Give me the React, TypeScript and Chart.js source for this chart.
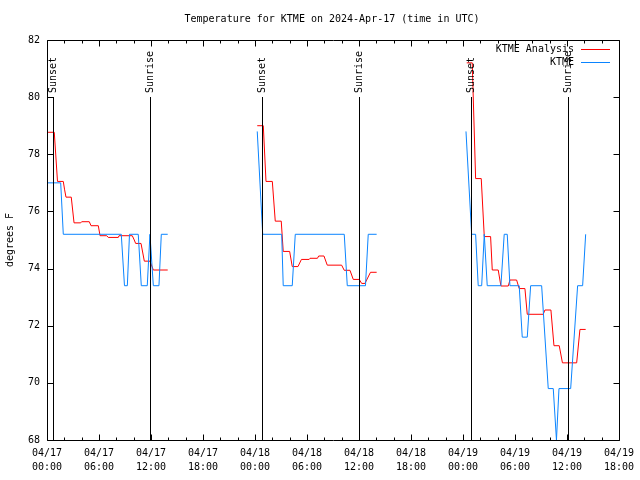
import React, { useEffect, useRef } from 'react';
import { Chart, registerables } from 'chart.js';

Chart.register(...registerables);

const TITLE = 'Temperature for KTME on 2024-Apr-17 (time in UTC)';
const Y_LABEL = 'degrees F';
const SERIES_NAMES = ['KTME Analysis', 'KTME'];
const SERIES_COLORS = ['#ff0000', '#0a84ff'];

// hours since 04/17 00:00 UTC
const xTickHours = [0, 6, 12, 18, 24, 30, 36, 42, 48, 54, 60, 66];
const xTickDates = ['04/17', '04/17', '04/17', '04/17', '04/18', '04/18', '04/18', '04/18', '04/19', '04/19', '04/19', '04/19'];
const xTickTimes = ['00:00', '06:00', '12:00', '18:00', '00:00', '06:00', '12:00', '18:00', '00:00', '06:00', '12:00', '18:00'];
const xMinorStep = 2;
const yTicks = [68, 70, 72, 74, 76, 78, 80, 82];

const sunsetHours = [0.73, 24.8, 48.93];
const sunriseHours = [11.92, 36.0, 60.1];

// KTME Analysis (null = gap between days)
const analysisHours = [
  0.12, 0.84, 1.21, 1.88, 2.02, 2.19, 2.8, 3.12, 3.89, 4.0, 4.88, 5.08, 5.92, 6.12, 6.89, 7.07, 8.23, 8.31, 9.84, 10.07, 10.23, 10.85, 11.23, 11.88, 12.27, 13.93,
  19,
  24.26, 24.96, 25.27, 26.0, 26.34, 27.03, 27.26, 28.0, 28.3, 28.96, 29.36, 30.25, 30.35, 31.21, 31.35, 31.96, 32.34, 34.0, 34.3, 34.96, 35.34, 36.03, 36.31, 36.69, 37.33, 38.04,
  43,
  48.43, 49.07, 49.46, 50.11, 50.46, 51.19, 51.38, 52.07, 52.38, 53.23, 53.42, 54.19, 54.49, 55.15, 55.42, 57.26, 57.46, 58.15, 58.5, 59.11, 59.48, 61.12, 61.5, 62.16,
];
const analysisTemps = [
  78.77, 78.77, 77.05, 77.05, 76.78, 76.5, 76.5, 75.6, 75.6, 75.64, 75.64, 75.5, 75.5, 75.15, 75.15, 75.09, 75.09, 75.15, 75.15, 75.0, 74.88, 74.88, 74.26, 74.26, 73.95, 73.95,
  null,
  79.0, 79.0, 77.05, 77.05, 75.66, 75.66, 74.6, 74.6, 74.07, 74.07, 74.32, 74.32, 74.36, 74.36, 74.44, 74.44, 74.12, 74.12, 73.94, 73.94, 73.62, 73.62, 73.48, 73.48, 73.87, 73.87,
  null,
  81.2, 81.2, 77.15, 77.15, 75.12, 75.12, 73.95, 73.95, 73.39, 73.39, 73.6, 73.6, 73.3, 73.3, 72.4, 72.4, 72.55, 72.55, 71.3, 71.3, 70.7, 70.7, 71.87, 71.87,
];

// KTME observations
const obsHours = [
  0.03, 1.58, 1.88, 8.57, 8.94, 9.27, 9.52, 10.53, 10.88, 11.57, 11.88, 12.27, 12.92, 13.19, 13.93,
  19,
  24.26, 24.89, 27.08, 27.26, 28.3, 28.65, 34.3, 34.65, 36.75, 37.07, 38.04,
  43,
  48.35, 49.0, 49.46, 49.76, 50.16, 50.46, 50.8, 52.38, 52.76, 53.11, 53.42, 54.49, 54.84, 55.42, 55.81, 57.08, 57.84, 58.42, 58.79, 59.08, 60.43, 61.23, 61.81, 62.16,
];
const obsTemps = [
  77.0, 77.0, 75.2, 75.2, 73.4, 73.4, 75.2, 75.2, 73.4, 73.4, 75.2, 73.4, 73.4, 75.2, 75.2,
  null,
  78.8, 75.2, 75.2, 73.4, 73.4, 75.2, 75.2, 73.4, 73.4, 75.2, 75.2,
  null,
  78.8, 75.2, 75.2, 73.4, 73.4, 75.2, 73.4, 73.4, 75.2, 75.2, 73.4, 73.4, 71.6, 71.6, 73.4, 73.4, 69.8, 69.8, 68.0, 69.8, 69.8, 73.4, 73.4, 75.2,
];

const FONT = '"DejaVu Sans Mono", "Liberation Mono", monospace';

const toPoints = (hs: number[], ts: (number | null)[]) => hs.map((h, i) => ({ x: h, y: ts[i] }));

const decorPlugin = {
  id: 'gnuplotDecor',
  afterDraw(chart: any) {
    const { ctx, chartArea } = chart;
    const { left, right, top, bottom } = chartArea;
    const xs = chart.scales.x;
    const ys = chart.scales.y;
    ctx.save();
    ctx.strokeStyle = '#000';
    ctx.fillStyle = '#000';
    ctx.lineWidth = 1;
    const L = Math.round(left) + 0.5;
    const R = Math.round(right) + 0.5;
    const T = Math.round(top) + 0.5;
    const B = Math.round(bottom) + 0.5;
    ctx.beginPath();
    ctx.moveTo(L, T);
    ctx.lineTo(R, T);
    ctx.lineTo(R, B);
    ctx.lineTo(L, B);
    ctx.closePath();
    ctx.stroke();

    // y ticks
    ctx.beginPath();
    yTicks.forEach((v) => {
      const y = Math.round(ys.getPixelForValue(v)) + 0.5;
      ctx.moveTo(L, y);
      ctx.lineTo(L + 6, y);
      ctx.moveTo(R, y);
      ctx.lineTo(R - 6, y);
    });
    // x ticks
    for (let h = xs.min; h <= xs.max + 1e-9; h += xMinorStep) {
      const x = Math.round(xs.getPixelForValue(h)) + 0.5;
      const len = xTickHours.includes(h) ? 6 : 3;
      ctx.moveTo(x, B);
      ctx.lineTo(x, B - len);
      ctx.moveTo(x, T);
      ctx.lineTo(x, T + len);
    }
    ctx.stroke();

    // sunset / sunrise markers
    const lineTop = Math.round(top + (bottom - top) * (1 - 0.8575));
    ctx.font = `10px ${FONT}`;
    const marks: [number, string][] = [
      ...sunsetHours.map((h) => [h, 'Sunset'] as [number, string]),
      ...sunriseHours.map((h) => [h, 'Sunrise'] as [number, string]),
    ];
    marks.forEach(([h, label]) => {
      const x = Math.round(xs.getPixelForValue(h)) + 0.5;
      ctx.beginPath();
      ctx.moveTo(x, B);
      ctx.lineTo(x, lineTop);
      ctx.stroke();
      ctx.save();
      ctx.translate(x, lineTop - 4);
      ctx.rotate(-Math.PI / 2);
      ctx.textAlign = 'left';
      ctx.textBaseline = 'middle';
      ctx.fillText(label, 0, 0);
      ctx.restore();
    });

    // title
    ctx.font = `10px ${FONT}`;
    ctx.textAlign = 'center';
    ctx.textBaseline = 'middle';
    ctx.fillText(TITLE, 332, 19);

    // y label
    ctx.save();
    ctx.translate(10, 240);
    ctx.rotate(-Math.PI / 2);
    ctx.textAlign = 'center';
    ctx.textBaseline = 'middle';
    ctx.fillText(Y_LABEL, 0, 0);
    ctx.restore();

    // legend
    chart.data.datasets.forEach((ds: any, i: number) => {
      const y = 49 + i * 13;
      ctx.textAlign = 'right';
      ctx.textBaseline = 'middle';
      ctx.fillStyle = '#000';
      ctx.fillText(ds.label, 574, y);
      ctx.strokeStyle = ds.borderColor;
      ctx.beginPath();
      ctx.moveTo(581, y + 0.5);
      ctx.lineTo(610, y + 0.5);
      ctx.stroke();
    });
    ctx.restore();
  },
};

export default function App() {
  const ref = useRef<HTMLCanvasElement | null>(null);
  useEffect(() => {
    if (!ref.current) return;
    const chart = new Chart(ref.current, {
      type: 'line',
      data: {
        datasets: [
          {
            label: SERIES_NAMES[0],
            data: toPoints(analysisHours, analysisTemps),
            borderColor: SERIES_COLORS[0],
            backgroundColor: SERIES_COLORS[0],
            borderWidth: 1,
            pointRadius: 0,
            tension: 0,
            spanGaps: false,
            order: 1,
          },
          {
            label: SERIES_NAMES[1],
            data: toPoints(obsHours, obsTemps),
            borderColor: SERIES_COLORS[1],
            backgroundColor: SERIES_COLORS[1],
            borderWidth: 1,
            pointRadius: 0,
            tension: 0,
            spanGaps: false,
            order: 0,
          },
        ],
      },
      options: {
        responsive: false,
        animation: false,
        layout: { padding: { top: 40, right: 20, left: 0, bottom: 0 } },
        plugins: { legend: { display: false }, title: { display: false }, tooltip: { enabled: false } },
        scales: {
          x: {
            type: 'linear',
            min: 0,
            max: 66,
            grid: { display: false, drawTicks: false },
            border: { display: false },
            afterFit: (s: any) => { s.height = 40; },
            ticks: {
              stepSize: 6,
              autoSkip: false,
              maxRotation: 0,
              minRotation: 0,
              padding: 6,
              color: '#000',
              font: { family: FONT, size: 10, lineHeight: 1.4 },
              callback: (v: any) => {
                const i = xTickHours.indexOf(Number(v));
                return i >= 0 ? [xTickDates[i], xTickTimes[i]] : '';
              },
            },
          },
          y: {
            type: 'linear',
            min: 68,
            max: 82,
            grid: { display: false, drawTicks: false },
            border: { display: false },
            afterFit: (s: any) => { s.width = 47; },
            ticks: {
              stepSize: 2,
              padding: 7,
              color: '#000',
              font: { family: FONT, size: 10 },
              callback: (v: any) => (yTicks.includes(Number(v)) ? String(v) : ''),
            },
          },
        },
      },
      plugins: [decorPlugin],
    });
    return () => chart.destroy();
  }, []);
  return (
    <div style={{ position: 'fixed', left: 0, top: 0, width: 640, height: 480, background: '#fff' }}>
      <canvas ref={ref} width={640} height={480} style={{ display: 'block' }} />
    </div>
  );
}
